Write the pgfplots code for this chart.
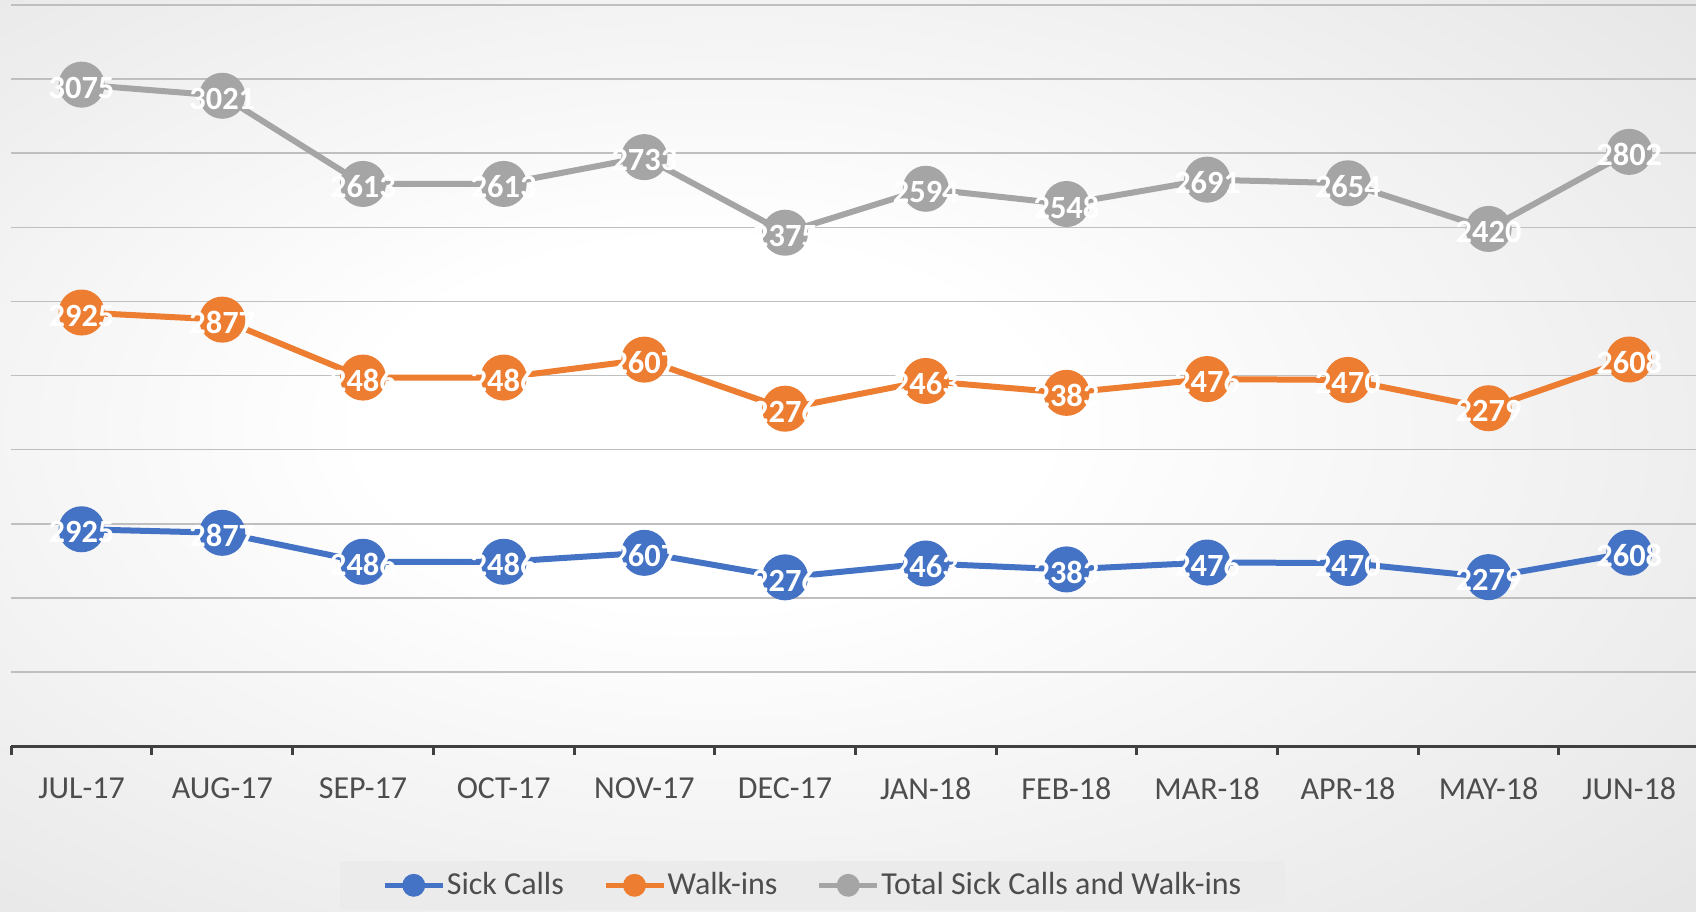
\documentclass[border=0pt]{standalone}
\usepackage{fontspec}
\setmainfont{Carlito}
\usepackage{pgfplots}
\usepackage{pgfplotstable}
\pgfplotsset{compat=1.18}
\definecolor{blueS}{HTML}{4472C4}
\definecolor{orangeS}{HTML}{ED7D31}
\definecolor{grayS}{HTML}{A5A5A5}
\definecolor{axisc}{HTML}{404040}
\definecolor{gridc}{HTML}{BFBFBF}
\definecolor{textc}{HTML}{4D4D4D}
\definecolor{legfill}{HTML}{EBEBEB}
\definecolor{bgA}{HTML}{DADADA}
\definecolor{bgB}{HTML}{CFCFCF}
\pgfdeclareradialshading{bgshade}{\pgfpoint{-5bp}{2bp}}{color(0bp)=(white); color(10bp)=(white); color(50bp)=(bgA); color(72bp)=(bgB)}
\pgfplotstableread{
x s w t
0 2925 2925 3075
1 2877 2877 3021
2 2486 2486 2613
3 2486 2486 2613
4 2607 2607 2733
5 2276 2276 2375
6 2463 2463 2594
7 2383 2383 2548
8 2476 2476 2691
9 2470 2470 2654
10 2279 2279 2420
11 2608 2608 2802
}\data
\begin{document}
\begin{tikzpicture}[x=1pt,y=1pt]
\useasboundingbox (0,0) rectangle (848,455.5);
\shade[shading=bgshade] (0,0) rectangle (848,455.5);
\begin{axis}[
  at={(5.6pt,82.5pt)}, anchor=south west, scale only axis,
  width=844.2pt, height=370.5pt,
  xmin=-0.5, xmax=11.5, ymin=0, ymax=10000,
  stack plots=y,
  separate axis lines, axis x line*=bottom, axis y line*=left,
  x axis line style={draw=axisc, line width=1.5pt},
  y axis line style={draw=none},
  ytick={1000,2000,...,10000}, yticklabels={}, ymajorgrids,
  major grid style={draw=gridc, line width=0.8pt},
  ytick style={draw=none},
  xtick={0,...,11},
  xticklabels={JUL-17,AUG-17,SEP-17,OCT-17,NOV-17,DEC-17,JAN-18,FEB-18,MAR-18,APR-18,MAY-18,JUN-18},
  major x tick style={draw=none},
  minor xtick={-0.5,0.5,...,11.5},
  minor x tick style={draw=axisc, line width=1.5pt},
  minor tick length=4.5pt, tick align=outside,
  xticklabel style={font=\fontsize{16}{19}\selectfont, text=textc, yshift=-8.2pt},
  point meta=explicit symbolic,
  nodes near coords,
  every node near coord/.append style={font=\fontsize{16.2}{19}\selectfont\bfseries, text=white, anchor=center, yshift=-1.5pt},
  every axis plot/.append style={line width=3pt, mark=*, mark size=10pt, mark options={solid}},
  legend columns=3,
  legend style={at={(0.4746,-0.188)}, anchor=center, fill=legfill, draw=none,
    font=\fontsize{16}{19}\selectfont, text=textc, inner xsep=21pt, inner ysep=4pt,
    /tikz/every odd column/.append style={column sep=0pt},
    /tikz/every even column/.append style={column sep=18.8pt},
    nodes={inner xsep=0.75pt, fill=none}},
  legend image code/.code={\draw[line width=2.6pt,#1,mark=none] (0pt,0pt) -- (29pt,0pt); \fill[#1] (14.5pt,0pt) circle (4.2pt);},
]
\addplot[color=blueS] table[x=x,y=s,meta=s] {\data};
\addlegendentry{Sick Calls}
\addplot[color=orangeS] table[x=x,y=w,meta=w] {\data};
\addlegendentry{Walk-ins}
\addplot[color=grayS] table[x=x,y=t,meta=t] {\data};
\addlegendentry{Total Sick Calls and Walk-ins}
\end{axis}
\end{tikzpicture}
\end{document}
